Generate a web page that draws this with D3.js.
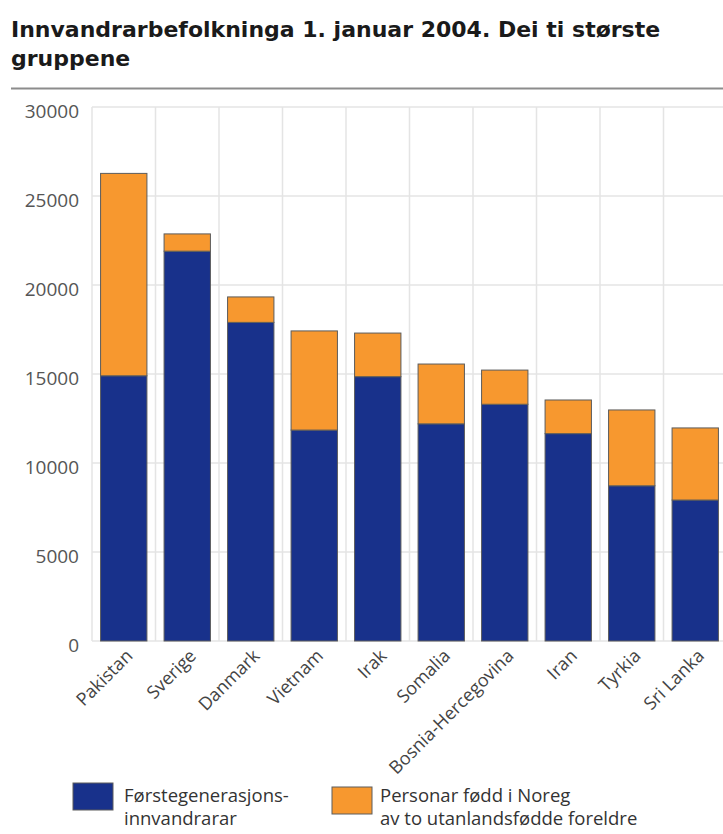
<!DOCTYPE html>
<html>
<head>
<meta charset="utf-8">
<script src="https://cdn.jsdelivr.net/npm/d3@7"></script>
<style>
  html, body { margin: 0; padding: 0; background: #fff; }
  svg { display: block; }
</style>
</head>
<body>
<div id="chart"></div>
<script>
// data
const countries = ["Pakistan", "Sverige", "Danmark", "Vietnam", "Irak", "Somalia",
  "Bosnia-Hercegovina", "Iran", "Tyrkia", "Sri Lanka"];
const firstGen = [14900, 21900, 17900, 11850, 14850, 12200, 13300, 11650, 8720, 7920];
const bornInNorway = [11370, 970, 1430, 5570, 2450, 3360, 1920, 1890, 4260, 4050];
const yTicks = [0, 5000, 10000, 15000, 20000, 25000, 30000];
const seriesKeys = ["first", "born"];
const seriesLabels = [["Førstegenerasjons-", "innvandrarar"],
  ["Personar fødd i Noreg", "av to utanlandsfødde foreldre"]];
const titleLines = ["Innvandrarbefolkninga 1. januar 2004. Dei ti største", "gruppene"];

const colors = { first: "#18318b", born: "#f7982f" };
const w = 723;
const h = 834;
const plotLeft = 92, plotRight = 727, plotTop = 107, plotBottom = 641;
const font = "'Open Sans', 'DejaVu Sans', sans-serif";

const svg = d3.select("#chart").append("svg")
  .attr("width", w)
  .attr("height", h);

// title
const title = svg.append("g")
  .attr("font-family", "'DejaVu Sans', sans-serif")
  .attr("font-weight", "bold")
  .attr("font-size", 20)
  .attr("fill", "#1a1a1a");
const titleText = title.selectAll("text")
  .data(titleLines)
  .enter()
  .append("text")
  .attr("x", 11)
  .attr("y", (d, i) => 37 + i * 29)
  .text((d) => d);
// fit the first line to the width seen in the reference
const len = titleText.node().getComputedTextLength();
title.attr("font-size", Math.min(22, 20 * 656 / len));

svg.append("line")
  .attr("x1", 11).attr("x2", w)
  .attr("y1", 88.5).attr("y2", 88.5)
  .attr("stroke", "#8c8c8c").attr("stroke-width", 2);

const rows = countries.map((c, i) => ({ country: c, first: firstGen[i], born: bornInNorway[i] }));

const xScale = d3.scaleBand()
  .domain(countries)
  .range([plotLeft, plotRight])
  .paddingInner(0.27)
  .paddingOuter(0.135);
const step = xScale.step();

const yScale = d3.scaleLinear()
  .domain([0, 30000])
  .range([plotBottom, plotTop]);

// grid
const grid = svg.append("g").attr("stroke", "#e4e4e4").attr("stroke-width", 1.5);
grid.selectAll(".hg")
  .data(yTicks)
  .enter()
  .append("line")
  .attr("x1", plotLeft).attr("x2", plotRight)
  .attr("y1", (d) => yScale(d)).attr("y2", (d) => yScale(d));
grid.selectAll(".vg")
  .data(countries.concat([null]))
  .enter()
  .append("line")
  .attr("x1", (d, i) => plotLeft + i * step)
  .attr("x2", (d, i) => plotLeft + i * step)
  .attr("y1", plotTop).attr("y2", plotBottom);

// y labels
svg.append("g")
  .selectAll("text")
  .data(yTicks)
  .enter()
  .append("text")
  .attr("x", 79)
  .attr("y", (d) => yScale(d) + 4)
  .attr("dy", "0.35em")
  .attr("text-anchor", "end")
  .attr("font-family", font)
  .attr("font-size", 19)
  .attr("fill", "#555")
  .text((d) => d);

// stacked bars
const stacked = d3.stack().keys(seriesKeys)(rows);
svg.append("g")
  .selectAll("g")
  .data(stacked)
  .enter()
  .append("g")
  .attr("fill", (s) => colors[s.key])
  .selectAll("rect")
  .data((s) => s)
  .enter()
  .append("rect")
  .attr("x", (d) => xScale(d.data.country))
  .attr("y", (d) => yScale(d[1]))
  .attr("width", xScale.bandwidth())
  .attr("height", (d) => yScale(d[0]) - yScale(d[1]))
  .attr("stroke", "#5c5c5c")
  .attr("stroke-width", 1);

// x labels
svg.append("g")
  .selectAll("text")
  .data(countries)
  .enter()
  .append("text")
  .attr("transform", (d) => `translate(${xScale(d) + xScale.bandwidth() / 2 + 10},657) rotate(-45)`)
  .attr("text-anchor", "end")
  .attr("font-family", font)
  .attr("font-size", 18)
  .attr("fill", "#444")
  .text((d) => d);

// legend
const legendPos = [{ x: 73, y: 783 }, { x: 332, y: 787 }];
const textX = [124, 380];
const legend = svg.append("g")
  .selectAll("g")
  .data(seriesKeys)
  .enter()
  .append("g");
legend.append("rect")
  .attr("x", (d, i) => legendPos[i].x)
  .attr("y", (d, i) => legendPos[i].y)
  .attr("width", 40)
  .attr("height", 27)
  .attr("fill", (d) => colors[d])
  .attr("stroke", "#5c5c5c")
  .attr("stroke-width", 1);
legend.append("text")
  .attr("font-family", font)
  .attr("font-size", 18.5)
  .attr("fill", "#333")
  .selectAll("tspan")
  .data((d, i) => seriesLabels[i].map((t) => ({ t: t, i: i })))
  .enter()
  .append("tspan")
  .attr("x", (d) => textX[d.i])
  .attr("y", (d, j) => 802 + j * 23)
  .text((d) => d.t);
</script>
</body>
</html>
